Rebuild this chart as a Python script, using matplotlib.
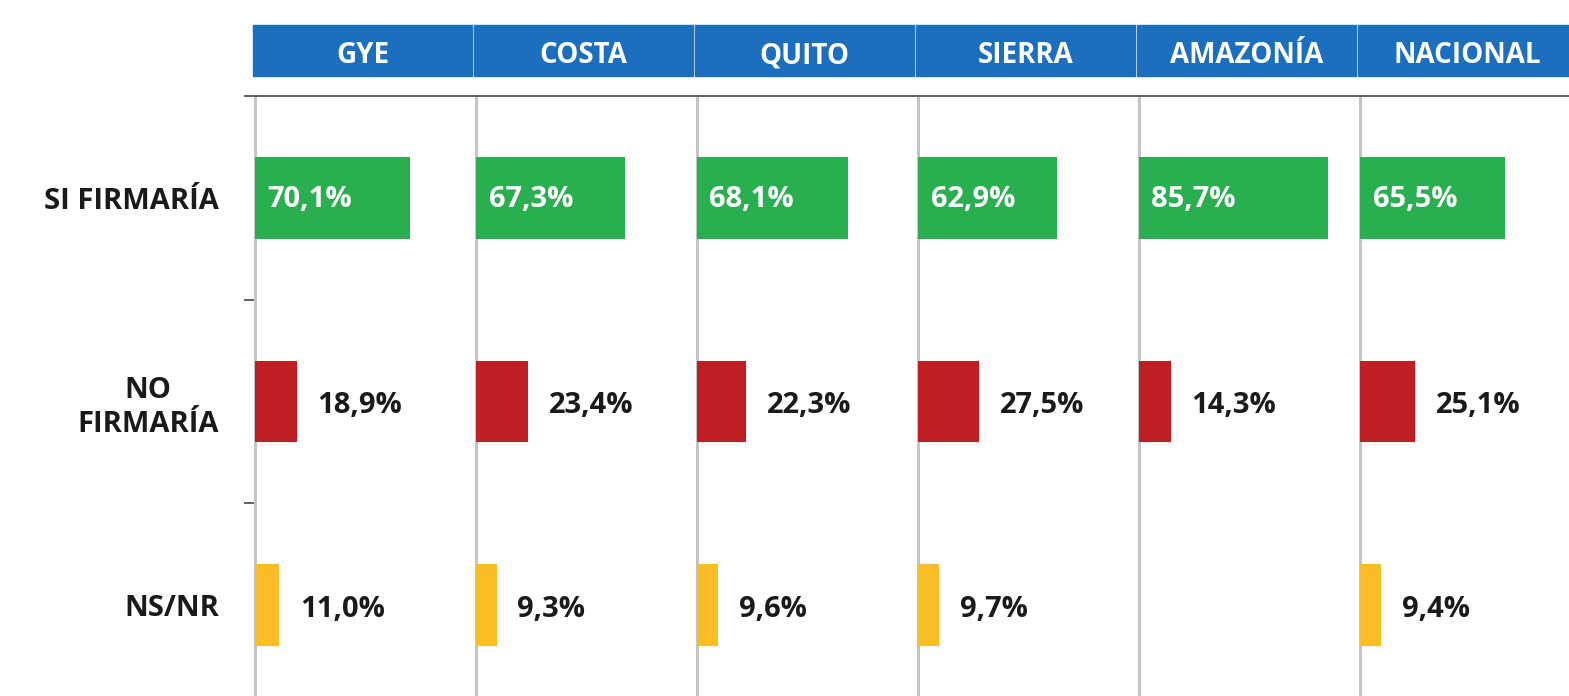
import numpy as np
import matplotlib
matplotlib.use('Agg')
import matplotlib.pyplot as plt
from matplotlib.patches import Rectangle

plt.rcParams['font.family'] = ['Open Sans', 'DejaVu Sans']

regions = ['GYE', 'COSTA', 'QUITO', 'SIERRA', 'AMAZONÍA', 'NACIONAL']
answers = ['SI FIRMARÍA', 'NO\nFIRMARÍA', 'NS/NR']
si_firmaria = [70.1, 67.3, 68.1, 62.9, 85.7, 65.5]
no_firmaria = [18.9, 23.4, 22.3, 27.5, 14.3, 25.1]
ns_nr = [11.0, 9.3, 9.6, 9.7, None, 9.4]

colors = ['#29ae50', '#be1e24', '#fbbd27']
blue = '#1b6fbe'

W, H = 1569, 696
fig = plt.figure(figsize=(W / 100, H / 100), dpi=100)

col_left = 255
col_w = 221
ax_top = 96
ax_bot = 707

series = [si_firmaria, no_firmaria, ns_nr]

for i, reg in enumerate(regions):
    x0 = col_left + i * col_w
    ax = fig.add_axes([x0 / W, 1 - ax_bot / H, col_w / W, (ax_bot - ax_top) / H])
    ax.set_xlim(0, 100)
    ax.set_ylim(2.5, -0.5)
    for j, vals in enumerate(series):
        v = vals[i]
        if v is None:
            continue
        ax.barh(j, v, height=0.4, color=colors[j], zorder=3)
        txt = f'{v:.1f}%'.replace('.', ',')
        if j == 0:
            ax.annotate(txt, (0, j), xytext=(9, -1), textcoords='offset points',
                        ha='left', va='center', color='white', fontsize=21,
                        fontweight='bold', zorder=4)
        else:
            ax.annotate(txt, (v, j), xytext=(15, -3), textcoords='offset points',
                        ha='left', va='center', color='#1a1a1a', fontsize=21,
                        fontweight='bold', zorder=4)
    for s in ['right', 'bottom']:
        ax.spines[s].set_visible(False)
    ax.spines['left'].set_color('#c4c4c4')
    ax.spines['left'].set_linewidth(2.2)
    ax.spines['top'].set_color('#555555')
    ax.spines['top'].set_linewidth(1.3)
    ax.set_xticks([])
    if i == 0:
        ax.set_yticks([-0.5, 0.5, 1.5])
        ax.set_yticks([0, 1, 2], minor=True)
        ax.set_yticklabels([], minor=False)
        ax.set_yticklabels(answers, minor=True, fontsize=21, fontweight='bold',
                           color='#1a1a1a', multialignment='center',
                           linespacing=1.25)
        ax.tick_params(axis='y', which='major', length=8, width=1.3, color='#555555')
        ax.tick_params(axis='y', which='minor', length=0, pad=26)
    else:
        ax.set_yticks([])

    # header cell
    hx = x0 - 3
    fig.add_artist(Rectangle(((hx + 1) / W, 1 - 76 / H), (col_w - 2) / W, 51 / H,
                             transform=fig.transFigure, color=blue))
    fig.text((hx + col_w / 2) / W, 1 - 52 / H, reg, ha='center', va='center_baseline',
             color='white', fontsize=20, fontweight='bold')

fig.savefig('out.png', dpi=100, facecolor='white')
